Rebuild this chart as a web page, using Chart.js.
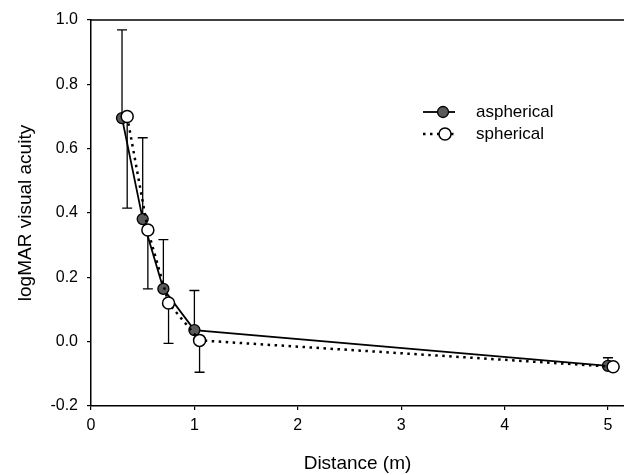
<!DOCTYPE html>
<html>
<head>
<meta charset="utf-8">
<script src="https://cdn.jsdelivr.net/npm/chart.js@4"></script>
<style>
  html, body { margin: 0; padding: 0; background: #fff; }
  #wrap { width: 624px; height: 475px; }
</style>
</head>
<body>
<div id="wrap"><canvas id="c" width="624" height="475"></canvas></div>
<script>
// ---- data ----
const distAspherical = [0.3, 0.5, 0.7, 1.0, 5.0];
const distSpherical  = [0.35, 0.55, 0.75, 1.05, 5.05];
const aspherical      = [0.695, 0.381, 0.164, 0.036, -0.075];
const spherical       = [0.700, 0.347, 0.120, 0.004, -0.078];
const asphericalUpper = [0.969, 0.634, 0.317, 0.159, -0.050];   // error bar tops
const sphericalLower  = [0.415, 0.164, -0.005, -0.095, null];   // error bar bottoms
const xTicks = [0, 1, 2, 3, 4, 5];
const yTicks = [-0.2, 0.0, 0.2, 0.4, 0.6, 0.8, 1.0];
const seriesNames = ['aspherical', 'spherical'];

const FONT = "'Liberation Sans', Arial, Helvetica, sans-serif";

const toPoints = (xs, ys) => xs.map((x, i) => ({ x: x, y: ys[i] }));

const errorBars = {
  id: 'errorBars',
  beforeDatasetsDraw(chart) {
    const { ctx, scales: { x, y } } = chart;
    ctx.save();
    ctx.strokeStyle = '#000';
    ctx.lineWidth = 1.3;
    const cap = 5;
    const drawBar = (xs, ys, ends) => {
      xs.forEach((xv, i) => {
        if (ends[i] === null || ends[i] === undefined) return;
        const px = x.getPixelForValue(xv);
        const p0 = y.getPixelForValue(ys[i]);
        const p1 = y.getPixelForValue(ends[i]);
        ctx.beginPath();
        ctx.moveTo(px, p0); ctx.lineTo(px, p1);
        ctx.moveTo(px - cap, p1); ctx.lineTo(px + cap, p1);
        ctx.stroke();
      });
    };
    drawBar(distAspherical, aspherical, asphericalUpper);
    drawBar(distSpherical, spherical, sphericalLower);
    ctx.restore();
  }
};

const frameAndLegend = {
  id: 'frameAndLegend',
  afterDraw(chart) {
    const { ctx, chartArea } = chart;
    ctx.save();
    // top frame line
    ctx.strokeStyle = '#000';
    ctx.lineWidth = 1.5;
    ctx.beginPath();
    ctx.moveTo(chartArea.left, chartArea.top);
    ctx.lineTo(chartArea.right, chartArea.top);
    ctx.stroke();

    // legend
    const x0 = 423, x1 = 455, tx = 476;
    const rows = [112, 134];
    // aspherical
    ctx.lineWidth = 1.8;
    ctx.setLineDash([]);
    ctx.beginPath(); ctx.moveTo(x0, rows[0]); ctx.lineTo(x1, rows[0]); ctx.stroke();
    ctx.beginPath(); ctx.arc(443, rows[0], 5.5, 0, Math.PI * 2);
    ctx.fillStyle = '#5a5a5a'; ctx.fill(); ctx.lineWidth = 1.3; ctx.stroke();
    // spherical
    ctx.lineWidth = 2.5;
    ctx.setLineDash([2.5, 4.5]);
    ctx.beginPath(); ctx.moveTo(x0, rows[1]); ctx.lineTo(x1, rows[1]); ctx.stroke();
    ctx.setLineDash([]);
    ctx.beginPath(); ctx.arc(445, rows[1], 6, 0, Math.PI * 2);
    ctx.fillStyle = '#fff'; ctx.fill(); ctx.lineWidth = 1.5; ctx.stroke();

    ctx.fillStyle = '#000';
    ctx.font = '17px ' + FONT;
    ctx.textBaseline = 'middle';
    ctx.textAlign = 'left';
    ctx.fillText(seriesNames[0], tx, rows[0]);
    ctx.fillText(seriesNames[1], tx, rows[1]);
    ctx.restore();
  }
};

new Chart(document.getElementById('c'), {
  type: 'scatter',
  data: {
    datasets: [
      {
        label: seriesNames[0],
        data: toPoints(distAspherical, aspherical),
        showLine: true,
        borderColor: '#000',
        borderWidth: 1.8,
        pointRadius: 5.5,
        pointBackgroundColor: '#5a5a5a',
        pointBorderColor: '#000',
        pointBorderWidth: 1.3,
        order: 2
      },
      {
        label: seriesNames[1],
        data: toPoints(distSpherical, spherical),
        showLine: true,
        borderColor: '#000',
        borderWidth: 2.5,
        borderDash: [2.5, 4.5],
        pointRadius: 6,
        pointBackgroundColor: '#fff',
        pointBorderColor: '#000',
        pointBorderWidth: 1.5,
        order: 1
      }
    ]
  },
  options: {
    responsive: false,
    animation: false,
    events: [],
    layout: { autoPadding: false, padding: { top: 20, right: 0, bottom: 0, left: 0 } },
    plugins: { legend: { display: false }, tooltip: { enabled: false } },
    scales: {
      x: {
        type: 'linear',
        min: 0,
        max: 5.155,
        afterBuildTicks: (s) => { s.ticks = xTicks.map(v => ({ value: v })); },
        afterFit: (s) => { s.height = 69; s.paddingLeft = 0; s.paddingRight = 0; },
        border: { display: true, color: '#000', width: 1.5 },
        grid: { display: true, drawOnChartArea: false, drawTicks: true, tickLength: 4, color: '#000', lineWidth: 1.2 },
        ticks: {
          color: '#000', padding: 6,
          font: { family: FONT, size: 16 },
          callback: (v) => String(v)
        },
        title: {
          display: true, text: 'Distance (m)', color: '#000',
          font: { family: FONT, size: 19 },
          padding: { top: 0, bottom: 0 }
        }
      },
      y: {
        type: 'linear',
        min: -0.2,
        max: 1.0,
        afterBuildTicks: (s) => { s.ticks = yTicks.map(v => ({ value: v })); },
        afterFit: (s) => { s.width = 91; s.paddingTop = 0; s.paddingBottom = 0; },
        border: { display: true, color: '#000', width: 1.5 },
        grid: { display: true, drawOnChartArea: false, drawTicks: true, tickLength: 4, color: '#000', lineWidth: 1.2 },
        ticks: {
          color: '#000', padding: 9,
          font: { family: FONT, size: 16 },
          callback: (v) => Number(v).toFixed(1)
        },
        title: {
          display: true, text: 'logMAR visual acuity', color: '#000',
          font: { family: FONT, size: 19 },
          padding: { top: 14, bottom: 0 }
        }
      }
    }
  },
  plugins: [errorBars, frameAndLegend]
});
</script>
</body>
</html>
